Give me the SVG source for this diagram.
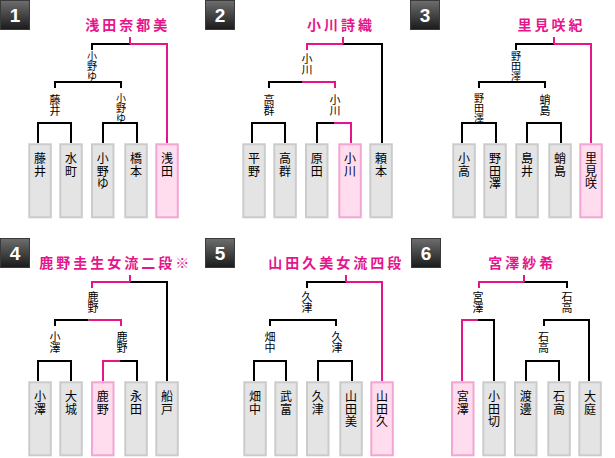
<svg xmlns="http://www.w3.org/2000/svg" width="615" height="458" viewBox="0 0 615 458">
<style>
.k{fill:none;stroke:#000;stroke-width:2}
.p{fill:none;stroke:#e6158c;stroke-width:2}
.b{fill:#e4e4e4;stroke:#cbcbcb;stroke-width:2}
.bp{fill:#ffdcee;stroke:#f2a6d2;stroke-width:2}
.bd{fill:url(#g);stroke:#3a3a3a;stroke-width:1}
.num{font-family:"Liberation Sans",Arial,sans-serif;font-weight:bold;font-size:19px;fill:#fff;text-anchor:middle}
.t{font-family:"Noto Sans CJK JP",sans-serif;font-weight:bold;font-size:14px;fill:#e6158c;letter-spacing:3px}
.n{font-family:"Noto Sans CJK JP",sans-serif;font-size:12px;fill:#000;text-anchor:middle}
.l{font-family:"Noto Sans CJK JP",sans-serif;font-size:11px;fill:#000;text-anchor:middle}
.l3{font-family:"Noto Sans CJK JP",sans-serif;font-size:10px;fill:#000;text-anchor:middle}
</style>
<defs>
<linearGradient id="g" x1="0" y1="0" x2="0" y2="1">
<stop offset="0" stop-color="#6e6e6e"/>
<stop offset="1" stop-color="#1a1a1a"/>
</linearGradient>
</defs>

<!-- badges -->
<g id="badge1"><rect class="bd" x="0.5" y="0.5" width="29" height="29"/><text class="num" x="15" y="22">1</text></g>
<g id="badge2"><rect class="bd" x="205.5" y="0.5" width="29" height="29"/><text class="num" x="220" y="22">2</text></g>
<g id="badge3"><rect class="bd" x="410.5" y="0.5" width="29" height="29"/><text class="num" x="425" y="22">3</text></g>
<g id="badge4"><rect class="bd" x="0.5" y="238.5" width="29" height="29"/><text class="num" x="15" y="260">4</text></g>
<g id="badge5"><rect class="bd" x="205.5" y="238.5" width="29" height="29"/><text class="num" x="220" y="260">5</text></g>
<g id="badge6"><rect class="bd" x="411.5" y="238.5" width="29" height="29"/><text class="num" x="426" y="260">6</text></g>

<!-- titles -->
<g id="title1"><text class="t" x="85.3" y="30">浅田奈都美</text></g>
<g id="title2"><text class="t" x="307" y="30">小川詩織</text></g>
<g id="title3"><text class="t" x="517.6" y="30">里見咲紀</text></g>
<g id="title4"><text class="t" x="39.3" y="268">鹿野圭生女流二段※</text></g>
<g id="title5"><text class="t" x="268.3" y="268">山田久美女流四段</text></g>
<g id="title6"><text class="t" x="488.3" y="268">宮澤紗希</text></g>

<!-- connectors -->
<g id="connectors">
<path class="k" d="M92,50V44H130M55,88V82H121V88M38,143V123H71V143M103,143V123H137V143"/>
<path class="p" d="M130,37V44M130,44H167V143"/>
<path class="k" d="M343,44H382V143M269,88V82H302M252,143V123H285V143M317,143V123H334"/>
<path class="p" d="M343,37V44M307,50V44H343M302,82H335V88M334,123H351V143"/>
<path class="k" d="M516,50V44H554M479,88V82H545V88M462,143V123H496V143M527,143V123H561V143"/>
<path class="p" d="M554,37V44M554,44H591V143"/>
<path class="k" d="M130,282H167V381M55,326V320H88.5M38,381V361H71V381M120,361H137V381"/>
<path class="p" d="M130,275V282M92,288V282H130M88.5,320H121V326M103,381V361H120"/>
<path class="k" d="M307,288V282H346M270,326V320H336V326M254,381V361H286V381M318,381V361H352V381"/>
<path class="p" d="M346,275V282M346,282H382V381"/>
<path class="k" d="M524,282H567V288M478,320H494V381M544,326V320H589V381M526,381V361H559V381"/>
<path class="p" d="M524,275V282M479,288V282H524M462,381V320H478"/>
</g>

<!-- match labels -->
<g id="m1a"><text class="l3"><tspan x="92" y="59.5">小</tspan><tspan x="92" y="69.5">野</tspan><tspan x="92" y="79.5">ゆ</tspan></text></g>
<g id="m1b"><text class="l"><tspan x="55" y="103.5">藤</tspan><tspan x="55" y="114.7">井</tspan></text></g>
<g id="m1c"><text class="l3"><tspan x="121" y="101.5">小</tspan><tspan x="121" y="111.5">野</tspan><tspan x="121" y="121.5">ゆ</tspan></text></g>

<g id="m2a"><text class="l"><tspan x="307" y="62.5">小</tspan><tspan x="307" y="73.7">川</tspan></text></g>
<g id="m2b"><text class="l"><tspan x="269" y="103.5">高</tspan><tspan x="269" y="114.7">群</tspan></text></g>
<g id="m2c"><text class="l"><tspan x="335" y="103.5">小</tspan><tspan x="335" y="114.7">川</tspan></text></g>

<g id="m3a"><text class="l3"><tspan x="516" y="59.5">野</tspan><tspan x="516" y="69.5">田</tspan><tspan x="516" y="79.5">澤</tspan></text></g>
<g id="m3b"><text class="l3"><tspan x="479" y="101.5">野</tspan><tspan x="479" y="111.5">田</tspan><tspan x="479" y="121.5">澤</tspan></text></g>
<g id="m3c"><text class="l"><tspan x="545" y="103.5">蛸</tspan><tspan x="545" y="114.7">島</tspan></text></g>

<g id="m4a"><text class="l"><tspan x="93" y="301">鹿</tspan><tspan x="93" y="312.2">野</tspan></text></g>
<g id="m4b"><text class="l"><tspan x="55" y="341">小</tspan><tspan x="55" y="352.2">澤</tspan></text></g>
<g id="m4c"><text class="l"><tspan x="122" y="341">鹿</tspan><tspan x="122" y="352.2">野</tspan></text></g>

<g id="m5a"><text class="l"><tspan x="307" y="301">久</tspan><tspan x="307" y="312.2">津</tspan></text></g>
<g id="m5b"><text class="l"><tspan x="270" y="341">畑</tspan><tspan x="270" y="352.2">中</tspan></text></g>
<g id="m5c"><text class="l"><tspan x="337" y="341">久</tspan><tspan x="337" y="352.2">津</tspan></text></g>

<g id="m6a"><text class="l"><tspan x="478" y="301">宮</tspan><tspan x="478" y="312.2">澤</tspan></text></g>
<g id="m6b"><text class="l"><tspan x="567" y="301">石</tspan><tspan x="567" y="312.2">高</tspan></text></g>
<g id="m6c"><text class="l"><tspan x="543.5" y="341">石</tspan><tspan x="543.5" y="352.2">高</tspan></text></g>

<!-- player boxes panel 1 -->
<g id="p1-1"><rect class="b" x="29.3" y="144.3" width="21.5" height="73"/><text class="n"><tspan x="40" y="163">藤</tspan><tspan x="40" y="175.5">井</tspan></text></g>
<g id="p1-2"><rect class="b" x="60.3" y="144.3" width="21.5" height="73"/><text class="n"><tspan x="71" y="163">水</tspan><tspan x="71" y="175.5">町</tspan></text></g>
<g id="p1-3"><rect class="b" x="92" y="144.3" width="21.5" height="73"/><text class="n"><tspan x="102.8" y="163">小</tspan><tspan x="102.8" y="175.5">野</tspan><tspan x="102.8" y="188">ゆ</tspan></text></g>
<g id="p1-4"><rect class="b" x="125.3" y="144.3" width="21.5" height="73"/><text class="n"><tspan x="136" y="163">橋</tspan><tspan x="136" y="175.5">本</tspan></text></g>
<g id="p1-5"><rect class="bp" x="156.3" y="144.3" width="21.5" height="73"/><text class="n"><tspan x="167" y="163">浅</tspan><tspan x="167" y="175.5">田</tspan></text></g>

<!-- panel 2 -->
<g id="p2-1"><rect class="b" x="243.3" y="144.3" width="21.5" height="73"/><text class="n"><tspan x="254" y="163">平</tspan><tspan x="254" y="175.5">野</tspan></text></g>
<g id="p2-2"><rect class="b" x="274.3" y="144.3" width="21.5" height="73"/><text class="n"><tspan x="285" y="163">高</tspan><tspan x="285" y="175.5">群</tspan></text></g>
<g id="p2-3"><rect class="b" x="306" y="144.3" width="21.5" height="73"/><text class="n"><tspan x="316.8" y="163">原</tspan><tspan x="316.8" y="175.5">田</tspan></text></g>
<g id="p2-4"><rect class="bp" x="339.3" y="144.3" width="21.5" height="73"/><text class="n"><tspan x="350" y="163">小</tspan><tspan x="350" y="175.5">川</tspan></text></g>
<g id="p2-5"><rect class="b" x="370.3" y="144.3" width="21.5" height="73"/><text class="n"><tspan x="381" y="163">頼</tspan><tspan x="381" y="175.5">本</tspan></text></g>

<!-- panel 3 -->
<g id="p3-1"><rect class="b" x="453.3" y="144.3" width="21.5" height="73"/><text class="n"><tspan x="464" y="163">小</tspan><tspan x="464" y="175.5">高</tspan></text></g>
<g id="p3-2"><rect class="b" x="484.3" y="144.3" width="21.5" height="73"/><text class="n"><tspan x="495" y="163">野</tspan><tspan x="495" y="175.5">田</tspan><tspan x="495" y="188">澤</tspan></text></g>
<g id="p3-3"><rect class="b" x="516.3" y="144.3" width="21.5" height="73"/><text class="n"><tspan x="527" y="163">島</tspan><tspan x="527" y="175.5">井</tspan></text></g>
<g id="p3-4"><rect class="b" x="549.3" y="144.3" width="21.5" height="73"/><text class="n"><tspan x="560" y="163">蛸</tspan><tspan x="560" y="175.5">島</tspan></text></g>
<g id="p3-5"><rect class="bp" x="580.3" y="144.3" width="21.5" height="73"/><text class="n"><tspan x="591" y="163">里</tspan><tspan x="591" y="175.5">見</tspan><tspan x="591" y="188">咲</tspan></text></g>

<!-- panel 4 -->
<g id="p4-1"><rect class="b" x="29.3" y="382.3" width="21.5" height="73"/><text class="n"><tspan x="40" y="401">小</tspan><tspan x="40" y="413.5">澤</tspan></text></g>
<g id="p4-2"><rect class="b" x="60.3" y="382.3" width="21.5" height="73"/><text class="n"><tspan x="71" y="401">大</tspan><tspan x="71" y="413.5">城</tspan></text></g>
<g id="p4-3"><rect class="bp" x="92" y="382.3" width="21.5" height="73"/><text class="n"><tspan x="102.8" y="401">鹿</tspan><tspan x="102.8" y="413.5">野</tspan></text></g>
<g id="p4-4"><rect class="b" x="125.3" y="382.3" width="21.5" height="73"/><text class="n"><tspan x="136" y="401">永</tspan><tspan x="136" y="413.5">田</tspan></text></g>
<g id="p4-5"><rect class="b" x="156.3" y="382.3" width="21.5" height="73"/><text class="n"><tspan x="167" y="401">船</tspan><tspan x="167" y="413.5">戸</tspan></text></g>

<!-- panel 5 -->
<g id="p5-1"><rect class="b" x="244.3" y="382.3" width="21.5" height="73"/><text class="n"><tspan x="255" y="401">畑</tspan><tspan x="255" y="413.5">中</tspan></text></g>
<g id="p5-2"><rect class="b" x="275.3" y="382.3" width="21.5" height="73"/><text class="n"><tspan x="286" y="401">武</tspan><tspan x="286" y="413.5">富</tspan></text></g>
<g id="p5-3"><rect class="b" x="307" y="382.3" width="21.5" height="73"/><text class="n"><tspan x="317.8" y="401">久</tspan><tspan x="317.8" y="413.5">津</tspan></text></g>
<g id="p5-4"><rect class="b" x="340.3" y="382.3" width="21.5" height="73"/><text class="n"><tspan x="351" y="401">山</tspan><tspan x="351" y="413.5">田</tspan><tspan x="351" y="426">美</tspan></text></g>
<g id="p5-5"><rect class="bp" x="371.3" y="382.3" width="21.5" height="73"/><text class="n"><tspan x="382" y="401">山</tspan><tspan x="382" y="413.5">田</tspan><tspan x="382" y="426">久</tspan></text></g>

<!-- panel 6 -->
<g id="p6-1"><rect class="bp" x="452" y="382.3" width="21.5" height="73"/><text class="n"><tspan x="462.8" y="401">宮</tspan><tspan x="462.8" y="413.5">澤</tspan></text></g>
<g id="p6-2"><rect class="b" x="483.3" y="382.3" width="21.5" height="73"/><text class="n"><tspan x="494" y="401">小</tspan><tspan x="494" y="413.5">田</tspan><tspan x="494" y="426">切</tspan></text></g>
<g id="p6-3"><rect class="b" x="515" y="382.3" width="21.5" height="73"/><text class="n"><tspan x="525.8" y="401">渡</tspan><tspan x="525.8" y="413.5">邊</tspan></text></g>
<g id="p6-4"><rect class="b" x="548.3" y="382.3" width="21.5" height="73"/><text class="n"><tspan x="559" y="401">石</tspan><tspan x="559" y="413.5">高</tspan></text></g>
<g id="p6-5"><rect class="b" x="579.3" y="382.3" width="21.5" height="73"/><text class="n"><tspan x="590" y="401">大</tspan><tspan x="590" y="413.5">庭</tspan></text></g>
</svg>
